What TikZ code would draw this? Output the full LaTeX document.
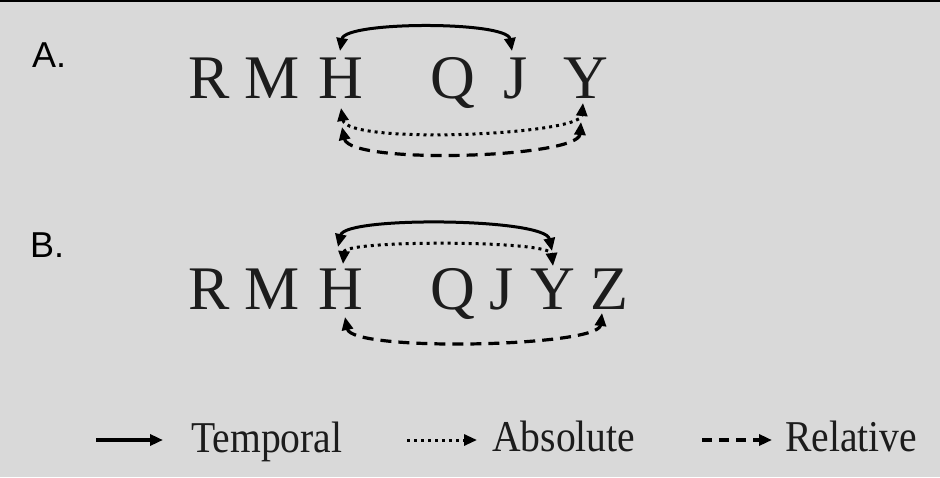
\documentclass[tikz,border=0pt]{standalone}
\usepackage{fontspec}
\setmainfont{Liberation Serif}
\newfontfamily\labelfont{Liberation Sans}
\usetikzlibrary{arrows.meta,calc}
\definecolor{bg}{RGB}{217,217,217}
\definecolor{ink}{RGB}{28,28,28}
\tikzset{
  letter/.style={inner sep=0pt, anchor=base, font=\fontsize{62}{62}\selectfont, text=ink},
  panel/.style={inner sep=0pt, anchor=base west, font=\labelfont\fontsize{36}{36}\selectfont, text=black},
  legtext/.style={inner sep=0pt, anchor=base west, font=\fontsize{44}{44}\selectfont, text=ink},
  temporal/.style={line width=3pt, draw=black},
  absolute/.style={line width=3pt, draw=black, dash pattern=on 3pt off 4pt},
  relative/.style={line width=3.2pt, draw=black, dash pattern=on 11pt off 7pt},
  >={Triangle[length=13pt,width=11pt]}
}
\begin{document}
\begin{tikzpicture}[x=1pt,y=-1pt]
  \useasboundingbox (0,0) rectangle (940,477);
  \fill[bg] (0,0) rectangle (940,477);
  \fill[black] (0,0) rectangle (940,1.5);

  % panel labels
  \node[panel] (labA) at (32,67) {A.};
  \node[panel] (labB) at (30,257) {B.};

  % row A
  \node[letter] (R1) at (209,98) {R};
  \node[letter] (M1) at (272,98) {M};
  \node[letter] (H1) at (341,98) {H};
  \node[letter] (Q1) at (453,98) {Q};
  \node[letter] (J1) at (516,98) {J};
  \node[letter] (Y1) at (586,98) {Y};

  \draw[temporal,<->] ($(H1.base)+(-1,-47)$) .. controls +(5,-30) and +(-5,-30) .. ($(J1.base)+(-4,-47)$);
  \draw[absolute,<->] ($(H1.base)+(0,10)$) .. controls +(6,37) and +(-3,32) .. ($(Y1.base)+(-3,5)$);
  \draw[relative,<->] ($(H1.base)+(1,29)$) .. controls +(8,38) and +(-3,36) .. ($(Y1.base)+(-5,24)$);

  % row B
  \node[letter] (R2) at (209,309) {R};
  \node[letter] (M2) at (272,309) {M};
  \node[letter] (H2) at (341,309) {H};
  \node[letter] (Q2) at (453,309) {Q};
  \node[letter] (J2) at (502,309) {J};
  \node[letter] (Y2) at (553,309) {Y};
  \node[letter] (Z2) at (609,309) {Z};

  \draw[temporal,<->] ($(H2.base)+(-3,-62)$) .. controls +(7,-31) and +(-7,-33) .. ($(Y2.base)+(-1,-58)$);
  \draw[absolute,<->] ($(H2.base)+(2,-45)$) .. controls +(2,-24) and +(-3,-26) .. ($(Y2.base)+(0,-43)$);
  \draw[relative,<->] ($(H2.base)+(4,8)$) .. controls +(7,35) and +(-4,34) .. ($(Z2.base)+(-7,4)$);

  % legend
  \node[legtext] (legT) at (191,452) {\scalebox{0.9}[1]{Temporal}};
  \node[legtext] (legA) at (492,451) {\scalebox{0.9}[1]{Absolute}};
  \node[legtext] (legR) at (785,451) {\scalebox{0.9}[1]{Relative}};
  \coordinate (t0) at (96,440);  \coordinate (t1) at (163,440);
  \coordinate (a0) at (407,440); \coordinate (a1) at (477,440);
  \coordinate (r0) at (702,440); \coordinate (r1) at (772,440);
  \draw[temporal,line width=3.4pt,->] (t0) -- (t1);
  \draw[absolute,->] (a0) -- (a1);
  \draw[relative,line width=3.4pt,dash pattern=on 10pt off 7pt,->] (r0) -- (r1);
\end{tikzpicture}
\end{document}
